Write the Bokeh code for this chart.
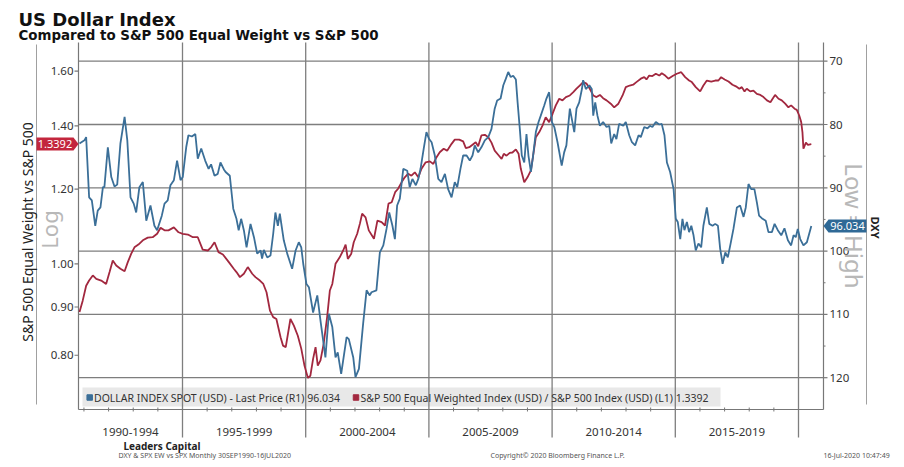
import math
from bokeh.plotting import figure
from bokeh.models import Range1d, LogScale, Label
from bokeh.core.properties import value
from bokeh.embed import file_html
from bokeh.resources import INLINE

# ---------------- data ----------------
dxy_years = [
    1990.82, 1991.02, 1991.09, 1991.21, 1991.32, 1991.46, 1991.56, 1991.67, 1991.77, 1991.83,
    1991.97, 1992.11, 1992.24, 1992.35, 1992.48, 1992.65, 1992.76, 1992.89, 1993.02, 1993.12,
    1993.25, 1993.39, 1993.53, 1993.70, 1993.86, 1993.97, 1994.16, 1994.27, 1994.40, 1994.51,
    1994.65, 1994.78, 1994.92, 1995.01, 1995.15, 1995.24, 1995.38, 1995.52, 1995.62, 1995.76,
    1995.92, 1996.06, 1996.16, 1996.30, 1996.43, 1996.54, 1996.68, 1996.75, 1996.92, 1997.06,
    1997.19, 1997.28, 1997.38, 1997.49, 1997.60, 1997.76, 1997.90, 1998.03, 1998.17, 1998.23,
    1998.30, 1998.44, 1998.57, 1998.68, 1998.77, 1998.87, 1998.95, 1999.11, 1999.25, 1999.45,
    1999.59, 1999.72, 1999.82, 1999.90, 2000.03, 2000.13, 2000.30, 2000.47, 2000.60, 2000.80,
    2000.94, 2001.08, 2001.21, 2001.30, 2001.44, 2001.66, 2001.75, 2001.93, 2002.02, 2002.16,
    2002.33, 2002.47, 2002.60, 2002.67, 2002.87, 2003.01, 2003.15, 2003.28, 2003.39, 2003.52,
    2003.62, 2003.71, 2003.82, 2003.96, 2004.12, 2004.22, 2004.33, 2004.47, 2004.57, 2004.66,
    2004.79, 2004.90, 2005.01, 2005.11, 2005.24, 2005.38, 2005.51, 2005.65, 2005.78, 2005.92,
    2006.05, 2006.15, 2006.28, 2006.39, 2006.53, 2006.66, 2006.77, 2006.86, 2007.00, 2007.13,
    2007.27, 2007.41, 2007.54, 2007.67, 2007.77, 2007.91, 2008.02, 2008.12, 2008.22, 2008.32,
    2008.42, 2008.53, 2008.60, 2008.69, 2008.77, 2008.87, 2008.96, 2009.04, 2009.14, 2009.23,
    2009.34, 2009.45, 2009.54, 2009.68, 2009.77, 2009.88, 2009.99, 2010.09, 2010.22, 2010.39,
    2010.49, 2010.58, 2010.72, 2010.80, 2010.90, 2010.99, 2011.10, 2011.21, 2011.26, 2011.37,
    2011.51, 2011.61, 2011.67, 2011.75, 2011.84, 2011.94, 2012.07, 2012.21, 2012.32, 2012.40,
    2012.52, 2012.61, 2012.72, 2012.89, 2012.99, 2013.13, 2013.24, 2013.37, 2013.51, 2013.60,
    2013.74, 2013.87, 2013.97, 2014.07, 2014.21, 2014.35, 2014.45, 2014.56, 2014.66, 2014.79,
    2014.93, 2015.02, 2015.10, 2015.20, 2015.29, 2015.37, 2015.47, 2015.56, 2015.65, 2015.74,
    2015.83, 2015.94, 2016.05, 2016.14, 2016.28, 2016.38, 2016.51, 2016.62, 2016.73, 2016.82,
    2016.92, 2017.03, 2017.13, 2017.23, 2017.36, 2017.50, 2017.63, 2017.77, 2017.86, 2017.97,
    2018.08, 2018.21, 2018.31, 2018.40, 2018.54, 2018.67, 2018.78, 2018.92, 2019.03, 2019.16,
    2019.30, 2019.43, 2019.57, 2019.70, 2019.80, 2019.89, 2019.97, 2020.07, 2020.20, 2020.34,
    2020.52,
]
dxy_values = [
    83.0, 82.5, 82.0, 91.5, 92.0, 96.0, 93.6, 93.1, 89.9, 89.9,
    83.6, 88.3, 89.8, 89.5, 83.0, 78.8, 82.5, 91.5, 92.5, 93.9,
    89.9, 89.1, 95.2, 92.8, 96.0, 96.7, 94.4, 92.5, 92.0, 89.6,
    88.8, 85.7, 88.8, 88.3, 83.6, 81.7, 81.9, 81.5, 85.4, 83.8,
    85.7, 87.0, 86.3, 88.1, 87.8, 86.0, 87.1, 87.5, 88.1, 93.3,
    94.9, 96.7, 94.9, 96.7, 99.4, 95.7, 97.8, 100.4, 99.9, 101.2,
    99.8, 101.0, 100.7, 97.3, 93.9, 96.0, 94.1, 98.3, 100.4, 102.8,
    99.9, 98.6, 99.4, 102.0, 105.2, 105.7, 109.7, 107.0, 111.0, 116.8,
    109.9, 112.0, 116.8, 116.0, 119.4, 113.6, 113.9, 116.8, 119.9, 118.6,
    111.5, 106.2, 107.0, 106.5, 106.2, 100.2, 99.1, 96.5, 93.9, 96.0,
    98.1, 92.8, 91.7, 87.0, 87.3, 89.9, 88.6, 89.6, 88.6, 87.0,
    83.8, 81.2, 82.3, 82.8, 84.9, 88.6, 89.1, 87.8, 90.2, 91.5,
    89.1, 89.9, 87.0, 84.9, 84.9, 85.7, 84.9, 83.3, 84.4, 83.6,
    82.5, 82.0, 80.7, 77.5, 76.2, 75.9, 73.8, 72.8, 71.7, 72.5,
    72.3, 72.9, 76.5, 80.7, 84.9, 86.0, 81.5, 84.9, 87.5, 84.9,
    81.2, 79.6, 78.6, 77.0, 75.9, 74.9, 79.6, 80.4, 82.8, 86.5,
    84.4, 83.3, 77.5, 79.1, 81.2, 77.5, 76.5, 74.4, 73.0, 74.4,
    73.8, 74.4, 78.6, 76.5, 78.6, 80.2, 79.6, 80.4, 80.2, 83.0,
    81.5, 82.3, 79.9, 80.2, 79.6, 81.7, 82.8, 83.3, 81.7, 82.0,
    80.4, 80.6, 80.2, 80.4, 79.6, 80.0, 79.9, 81.7, 86.0, 87.5,
    90.2, 94.9, 95.4, 98.1, 94.9, 96.7, 95.4, 97.0, 96.0, 97.5,
    99.9, 98.8, 99.4, 96.0, 93.1, 95.7, 96.0, 95.7, 96.0, 99.6,
    102.0, 100.2, 101.0, 99.1, 96.5, 93.1, 92.8, 94.6, 93.1, 89.4,
    90.2, 90.2, 92.3, 94.4, 94.9, 95.2, 97.0, 97.0, 95.7, 96.7,
    97.5, 96.4, 98.3, 99.1, 97.5, 97.8, 96.5, 98.1, 99.1, 98.6,
    96.034,
]
ratio_years = [
    1990.82, 1990.95, 1991.09, 1991.21, 1991.36, 1991.50, 1991.70, 1991.90, 1992.04, 1992.17,
    1992.31, 1992.48, 1992.65, 1992.78, 1992.92, 1993.05, 1993.21, 1993.39, 1993.59, 1993.79,
    1993.97, 1994.11, 1994.27, 1994.43, 1994.65, 1994.84, 1995.01, 1995.22, 1995.42, 1995.62,
    1995.82, 1996.03, 1996.16, 1996.30, 1996.46, 1996.64, 1996.88, 1997.08, 1997.19, 1997.33,
    1997.49, 1997.65, 1997.83, 1997.96, 1998.14, 1998.28, 1998.41, 1998.55, 1998.68, 1998.81,
    1998.98, 1999.08, 1999.19, 1999.38, 1999.52, 1999.68, 1999.82, 1999.95, 2000.09, 2000.19,
    2000.30, 2000.40, 2000.49, 2000.60, 2000.73, 2000.87, 2000.98, 2001.08, 2001.21, 2001.38,
    2001.52, 2001.62, 2001.71, 2001.85, 2001.95, 2002.09, 2002.20, 2002.29, 2002.43, 2002.56,
    2002.77, 2002.91, 2003.08, 2003.22, 2003.36, 2003.49, 2003.63, 2003.75, 2003.89, 2004.02,
    2004.16, 2004.29, 2004.43, 2004.57, 2004.70, 2004.87, 2005.04, 2005.18, 2005.31, 2005.44,
    2005.60, 2005.74, 2005.92, 2006.05, 2006.23, 2006.39, 2006.50, 2006.64, 2006.77, 2006.90,
    2007.00, 2007.13, 2007.27, 2007.41, 2007.54, 2007.67, 2007.81, 2007.95, 2008.04, 2008.15,
    2008.28, 2008.39, 2008.53, 2008.64, 2008.73, 2008.87, 2009.00, 2009.14, 2009.23, 2009.34,
    2009.48, 2009.61, 2009.74, 2009.88, 2010.02, 2010.15, 2010.29, 2010.42, 2010.56, 2010.72,
    2010.86, 2010.99, 2011.12, 2011.26, 2011.40, 2011.53, 2011.67, 2011.80, 2011.94, 2012.07,
    2012.21, 2012.38, 2012.52, 2012.69, 2012.86, 2012.99, 2013.15, 2013.29, 2013.42, 2013.60,
    2013.74, 2013.83, 2013.94, 2014.07, 2014.21, 2014.35, 2014.45, 2014.59, 2014.72, 2014.89,
    2015.06, 2015.24, 2015.40, 2015.56, 2015.67, 2015.83, 2016.01, 2016.14, 2016.28, 2016.46,
    2016.62, 2016.75, 2016.86, 2017.00, 2017.16, 2017.32, 2017.46, 2017.60, 2017.70, 2017.81,
    2017.90, 2018.04, 2018.17, 2018.31, 2018.45, 2018.58, 2018.72, 2018.86, 2018.95, 2019.05,
    2019.19, 2019.32, 2019.46, 2019.59, 2019.70, 2019.84, 2019.93, 2020.03, 2020.11, 2020.16,
    2020.20, 2020.30, 2020.38, 2020.52,
]
ratio_values = [
    0.889, 0.914, 0.948, 0.960, 0.972, 0.964, 0.960, 0.952, 0.980, 1.008,
    0.996, 0.988, 0.982, 1.004, 1.025, 1.041, 1.048, 1.059, 1.066, 1.067,
    1.076, 1.092, 1.085, 1.085, 1.093, 1.080, 1.076, 1.074, 1.067, 1.067,
    1.035, 1.033, 1.041, 1.054, 1.029, 1.023, 1.004, 0.988, 0.980, 0.968,
    0.976, 0.992, 0.976, 0.968, 0.960, 0.952, 0.933, 0.892, 0.878, 0.874,
    0.836, 0.819, 0.816, 0.874, 0.860, 0.839, 0.813, 0.780, 0.757, 0.761,
    0.793, 0.816, 0.780, 0.790, 0.823, 0.878, 0.937, 0.952, 1.000, 1.016,
    1.033, 1.048, 1.012, 1.025, 1.054, 1.076, 1.103, 1.130, 1.120, 1.085,
    1.063, 1.111, 1.107, 1.098, 1.158, 1.162, 1.191, 1.201, 1.220, 1.235,
    1.246, 1.240, 1.250, 1.235, 1.261, 1.281, 1.284, 1.276, 1.297, 1.313,
    1.324, 1.318, 1.340, 1.354, 1.354, 1.348, 1.326, 1.329, 1.337, 1.345,
    1.332, 1.368, 1.370, 1.362, 1.344, 1.318, 1.305, 1.292, 1.308, 1.302,
    1.311, 1.312, 1.322, 1.308, 1.261, 1.220, 1.235, 1.256, 1.302, 1.362,
    1.379, 1.401, 1.430, 1.413, 1.442, 1.472, 1.496, 1.490, 1.502, 1.508,
    1.520, 1.533, 1.545, 1.558, 1.552, 1.533, 1.508, 1.502, 1.510, 1.498,
    1.490, 1.478, 1.465, 1.478, 1.508, 1.539, 1.545, 1.548, 1.558, 1.571,
    1.577, 1.568, 1.583, 1.581, 1.590, 1.583, 1.592, 1.583, 1.571, 1.581,
    1.590, 1.596, 1.577, 1.564, 1.558, 1.539, 1.523, 1.545, 1.564, 1.560,
    1.564, 1.564, 1.577, 1.568, 1.560, 1.548, 1.542, 1.533, 1.539, 1.523,
    1.533, 1.523, 1.526, 1.514, 1.510, 1.502, 1.490, 1.483, 1.496, 1.510,
    1.496, 1.490, 1.478, 1.465, 1.472, 1.460, 1.456, 1.436, 1.413, 1.379,
    1.324, 1.344, 1.337, 1.3392,
]

band_labels = ["1990-1994", "1995-1999", "2000-2004", "2005-2009", "2010-2014", "2015-2019"]
band_centers = [1992.89, 1997.5, 2002.5, 2007.5, 2012.5, 2017.5]
band_edges = [1995, 2000, 2005, 2010, 2015, 2020]
year_ticks = [1991, 1992, 1993, 1994, 1996, 1997, 1998, 1999, 2001, 2002, 2003, 2004,
              2006, 2007, 2008, 2009, 2011, 2012, 2013, 2014, 2016, 2017, 2018, 2019]
left_ticks = [0.80, 0.90, 1.00, 1.20, 1.40, 1.60]
right_ticks = [70, 80, 90, 100, 110, 120]
right_minor = [75, 85, 95, 105, 115]

# ---------------- page geometry ----------------
W, H = 904, 467
X_1995, PX_YEAR = 182.0, 24.64      # px of 1 Jan 1995, px per year
PY_70, PX_DXY = 60.7, 6.33          # px of DXY 70, px per DXY point (inverted axis)
PY_R1, PX_LN = 263.3, 409.8         # px of ratio 1.00, px per ln unit
F_L, F_R, F_T, F_B = 78, 823, 42, 409

BLUE = "#3b6f98"
RED = "#a2283f"
BADGE_RED = "#c3263d"
BADGE_BLUE = "#2f6996"
GRID = "#7e7e7e"
AXIS = "#777777"
TXT = "#333333"
FONT = "Noto Sans"


def X(px):
    return 1995 + (px - X_1995) / PX_YEAR


def V(py):
    return 70 + (py - PY_70) / PX_DXY


def R(py):
    return math.exp((PY_R1 - py) / PX_LN)


def py_of_ratio(r):
    return PY_R1 - math.log(r) * PX_LN


def py_of_dxy(v):
    return PY_70 + (v - 70) * PX_DXY


p = figure(width=W, height=H, x_range=Range1d(X(0), X(W)), y_range=Range1d(V(H), V(0)),
           x_axis_location=None, y_axis_location=None, min_border=0,
           toolbar_location=None, output_backend="svg", title=None)
p.extra_y_ranges = {"ratio": Range1d(R(H), R(0))}
p.extra_y_scales = {"ratio": LogScale()}
p.outline_line_color = None
p.background_fill_color = "white"
p.border_fill_color = "white"
for g in p.grid:
    g.visible = False

# legend background (under the grid)
p.quad(left=[X(82)], right=[X(720)], top=[V(387)], bottom=[V(406)],
       fill_color="#e8e8e8", line_color=None)

# grid
n_r = len(right_ticks)
p.segment(x0=[X(F_L)] * n_r, x1=[X(F_R)] * n_r, y0=right_ticks, y1=right_ticks,
          line_color=GRID, line_width=1.3)
n_e = len(band_edges)
p.segment(x0=band_edges, x1=band_edges, y0=[V(F_T)] * n_e, y1=[V(437)] * n_e,
          line_color=GRID, line_width=1.3)

# axis lines
p.segment(x0=[X(F_L), X(F_R), X(F_L)], x1=[X(F_L), X(F_R), X(F_R)],
          y0=[V(F_T), V(F_T), V(F_B)], y1=[V(F_B), V(F_B), V(F_B)],
          line_color=AXIS, line_width=1.2)
# side rules
p.segment(x0=[X(36), X(866)], x1=[X(36), X(866)], y0=[V(44), V(44)], y1=[V(404), V(404)],
          line_color="#a0a0a0", line_width=1)

# ticks
n_l = len(left_ticks)
p.segment(x0=[X(F_L - 4)] * n_l, x1=[X(F_L)] * n_l, y0=left_ticks, y1=left_ticks,
          y_range_name="ratio", line_color=AXIS, line_width=1.2)
p.segment(x0=[X(F_R)] * n_r, x1=[X(F_R + 4)] * n_r, y0=right_ticks, y1=right_ticks,
          line_color=AXIS, line_width=1.2)
n_m = len(right_minor)
p.segment(x0=[X(F_R)] * n_m, x1=[X(F_R + 2)] * n_m, y0=right_minor, y1=right_minor,
          line_color=AXIS, line_width=1)
n_y = len(year_ticks)
p.segment(x0=year_ticks, x1=year_ticks, y0=[V(F_B - 2)] * n_y, y1=[V(F_B + 2)] * n_y,
          line_color=AXIS, line_width=1)

# tick labels
p.text(x=[X(F_L - 5)] * n_l, y=left_ticks, text=[f"{t:.2f}" for t in left_ticks],
       y_range_name="ratio", text_align="right", text_baseline="middle",
       text_font=value(FONT), text_font_size="11.5px", text_color=TXT)
p.text(x=[X(F_R + 6)] * n_r, y=right_ticks, text=[str(t) for t in right_ticks],
       text_align="left", text_baseline="middle",
       text_font=value(FONT), text_font_size="11.5px", text_color=TXT)
p.text(x=band_centers, y=[V(431)] * len(band_centers), text=band_labels,
       text_align="center", text_baseline="middle",
       text_font=value(FONT), text_font_size="11.5px", text_color=TXT)

# series
p.line(ratio_years, ratio_values, y_range_name="ratio", line_color=RED, line_width=1.8)
p.line(dxy_years, dxy_values, line_color=BLUE, line_width=1.8)

# legend
p.scatter([X(89.2)], [V(397)], marker="square", size=5.5, color=BLUE)
p.scatter([X(355.5)], [V(397)], marker="square", size=5.5, color=RED)
p.text(x=[X(93.5), X(360)], y=[V(397), V(397)],
       text=[f"DOLLAR INDEX SPOT (USD) - Last Price (R1) {dxy_values[-1]:.3f}",
             f"S&P 500 Equal Weighted Index (USD) / S&P 500 Index (USD) (L1) {ratio_values[-1]:.4f}"],
       text_align="left", text_baseline="middle",
       text_font=value(FONT), text_font_size="10.5px", text_color=TXT)

# side captions
p.text(x=[X(48)], y=[V(229)], text=["Log"], angle=math.pi / 2,
       text_align="center", text_baseline="alphabetic",
       text_font=value(FONT), text_font_size="22px", text_color="#b8b8b8")
p.text(x=[X(26.5)], y=[V(231.5)], text=["S&P 500 Equal Weight vs S&P 500"], angle=math.pi / 2,
       text_align="center", text_baseline="alphabetic",
       text_font=value(FONT), text_font_size="14px", text_color="#222222")
p.text(x=[X(854)], y=[V(225.5)], text=["Low = High"], angle=-math.pi / 2,
       text_align="center", text_baseline="alphabetic",
       text_font=value(FONT), text_font_size="24px", text_color="#b8b8b8")
p.text(x=[X(874.5)], y=[V(227)], text=["DXY"], angle=-math.pi / 2,
       text_align="center", text_baseline="alphabetic",
       text_font=value(FONT), text_font_size="11px", text_font_style="bold", text_color="#222222")

# last-value badges
ry = py_of_ratio(ratio_values[-1])
by = py_of_dxy(dxy_values[-1])
p.patch([X(36), X(73), X(78), X(73), X(36)],
        [V(ry - 6.5), V(ry - 6.5), V(ry), V(ry + 6.5), V(ry + 6.5)],
        fill_color=BADGE_RED, line_color=None)
p.patch([X(823), X(828), X(866), X(866), X(828)],
        [V(by), V(by - 6.5), V(by - 6.5), V(by + 6.5), V(by + 6.5)],
        fill_color=BADGE_BLUE, line_color=None)
p.add_layout(Label(x=X(54.5), y=V(ry), text=f"{ratio_values[-1]:.4f}", text_font=FONT,
                   text_font_size="11px", text_color="white",
                   text_align="center", text_baseline="middle"))
p.add_layout(Label(x=X(847), y=V(by), text=f"{dxy_values[-1]:.3f}", text_font=FONT,
                   text_font_size="11px", text_color="white",
                   text_align="center", text_baseline="middle"))

# titles
p.add_layout(Label(x=X(18), y=V(18.5), text="US Dollar Index", text_font="DejaVu Sans",
                   text_font_style="bold", text_font_size="18px", text_color="#111111",
                   text_align="left", text_baseline="alphabetic"))
p.add_layout(Label(x=X(18), y=V(35), text="Compared to S&P 500 Equal Weight vs S&P 500",
                   text_font="DejaVu Sans", text_font_style="bold", text_font_size="13.4px",
                   text_color="#111111", text_align="left", text_baseline="alphabetic"))

# footer
p.add_layout(Label(x=X(123), y=V(445.5), text="Leaders Capital", text_font=FONT,
                   text_font_style="bold", text_font_size="10px", text_color="#222222",
                   text_align="left", text_baseline="alphabetic"))
p.add_layout(Label(x=X(118), y=V(455), text="DXY & SPX EW vs SPX  Monthly 30SEP1990-16JUL2020",
                   text_font=FONT, text_font_size="7px", text_color="#555555",
                   text_align="left", text_baseline="alphabetic"))
p.add_layout(Label(x=X(490), y=V(455), text="Copyright\u00a9 2020 Bloomberg Finance L.P.",
                   text_font=FONT, text_font_size="7px", text_color="#555555",
                   text_align="left", text_baseline="alphabetic"))
p.add_layout(Label(x=X(823), y=V(455), text="16-Jul-2020 10:47:49",
                   text_font=FONT, text_font_size="7px", text_color="#555555",
                   text_align="left", text_baseline="alphabetic"))

open("out.html", "w").write(file_html(p, INLINE))
